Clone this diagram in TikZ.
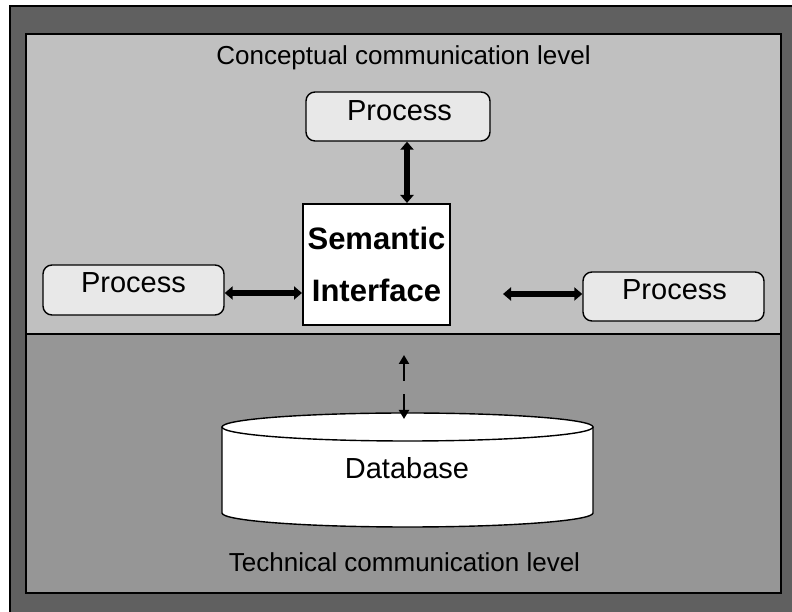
\documentclass[tikz,border=0pt]{standalone}
\usepackage{fontspec}
\setmainfont{Liberation Sans}
\usetikzlibrary{arrows.meta}
\definecolor{framegray}{RGB}{96,96,96}
\definecolor{uppergray}{RGB}{192,192,192}
\definecolor{lowergray}{RGB}{150,150,150}
\definecolor{procgray}{RGB}{232,232,232}
\begin{document}
\begin{tikzpicture}[x=1pt,y=1pt,
  lvltext/.style={anchor=base, inner sep=0pt, font=\fontsize{26}{31}\selectfont},
  boxtext/.style={anchor=base, inner sep=0pt, font=\fontsize{29}{34}\selectfont},
  procbox/.style={draw=black, line width=1.4pt, fill=procgray, rounded corners=9pt,
    inner sep=0pt, minimum height=49pt, minimum width=181pt},
  bigarrow/.style={line width=5.5pt, {Triangle[length=8pt,width=13pt]}-{Triangle[length=8pt,width=13pt]}},
  dasharrow/.style={line width=2.2pt, dash pattern=on 18pt off 13pt,
    {Triangle[length=9pt,width=10pt]}-{Triangle[length=9pt,width=10pt]}}]
\useasboundingbox (0,0) rectangle (792,612);

% outer frame and the two level panels
\fill[framegray] (10,-10) rectangle (810,606);
\draw[line width=1.2pt] (10,-10) -- (10,606) -- (810,606);
\fill[uppergray] (26,278) rectangle (781,578);
\fill[lowergray] (26,19) rectangle (781,278);
\draw[line width=1.4pt] (26,278) -- (781,278);
\draw[line width=2pt] (26,19) rectangle (781,578);

\node[lvltext] (conc) at (403.5,547.7) {Conceptual communication level};
\node[lvltext] (tech) at (404.5,40.7) {Technical communication level};

% process boxes
\node[procbox, minimum width=184pt] (ptop) at (398,495.5) {};
\node[boxtext] (ptoptxt) at (399.5,491.6) {Process};
\node[procbox, minimum height=50pt] (pleft) at (133.5,322) {};
\node[boxtext] (plefttxt) at (133.5,319.6) {Process};
\node[procbox] (pright) at (673.5,315.5) {};
\node[boxtext] (prighttxt) at (674.5,312.1) {Process};

% semantic interface
\node[draw=black, line width=2pt, fill=white, inner sep=0pt,
  minimum width=147pt, minimum height=121pt, align=center,
  font=\bfseries\fontsize{31}{52}\selectfont] (sem) at (376.5,347.5) {Semantic\\Interface};

% database cylinder
\fill[white] (222,185) -- (222,99) arc[start angle=180, end angle=360, x radius=185.5, y radius=14]
  -- (593,185) arc[start angle=0, end angle=180, x radius=185.5, y radius=14] -- cycle;
\draw[line width=1.4pt] (222,185) -- (222,99) arc[start angle=180, end angle=360, x radius=185.5, y radius=14]
  -- (593,185);
\draw[line width=1.4pt] (407.5,185) ellipse[x radius=185.5, y radius=14];
\node[boxtext] (db) at (407,133.6) {Database};

% connectors
\coordinate (vx) at (407,0);
\coordinate (ly) at (0,319);
\coordinate (rfree) at (503,318);
\coordinate (dtop) at (404,257);
\coordinate (dbot) at (404,193);
\draw[bigarrow] (ptop.south -| vx) -- (sem.north -| vx);
\draw[bigarrow] (pleft.east |- ly) -- (sem.west |- ly);
\draw[bigarrow] (rfree) -- (rfree -| pright.west);
\draw[dasharrow] (dtop) -- (dbot);
\end{tikzpicture}
\end{document}
